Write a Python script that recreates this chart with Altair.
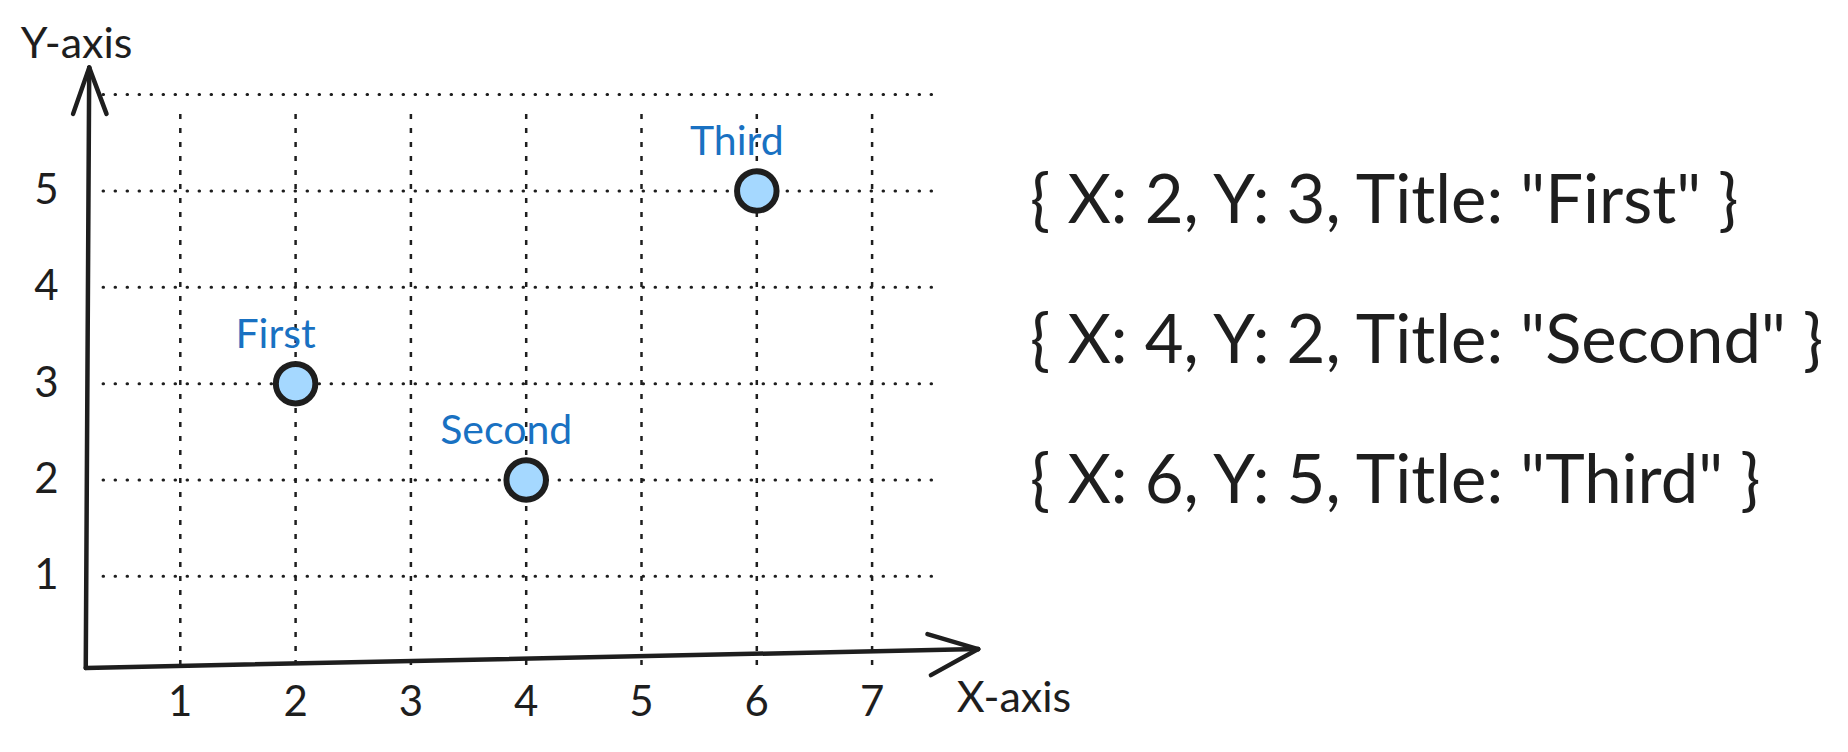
import altair as alt
import pandas as pd

# ---- data ----
titles = ["First", "Second", "Third"]
x_vals = [2, 4, 6]
y_vals = [3, 2, 5]
x_ticks = [1, 2, 3, 4, 5, 6, 7]
y_ticks = [1, 2, 3, 4, 5]
y_grid = [1, 2, 3, 4, 5, 6]

INK = "#1e1e1e"
BLUE = "#1971c2"
FILL = "#a5d8ff"
FONT = "Lato"

W, H = 1830, 734
# pixel mapping: x -> 57 + 115.3*x ; y -> 664.7 - 96.35*y (plot coords)
xs = alt.Scale(domain=[-57 / 115.3, (W - 57) / 115.3], nice=False, zero=False)
ys = alt.Scale(domain=[(664.7 - H) / 96.35, 664.7 / 96.35], nice=False, zero=False)

pts = pd.DataFrame({"x": x_vals, "y": y_vals, "title": titles})
pts["label"] = [f'{{ X: {a}, Y: {b}, Title: "{t}" }}' for a, b, t in zip(x_vals, y_vals, titles)]
pts["row_y"] = [4.878 - 1.455 * i for i in range(len(titles))]
pts["row_x"] = 8.37

hgrid = pd.DataFrame({"y": y_grid, "x": 0.33, "x2": 7.6})
vgrid = pd.DataFrame({"x": x_ticks, "y": 0.08, "y2": 5.85})

segs = pd.DataFrame({
    "x":  [0.18, 0.07, 0.36, 0.18, 7.48, 7.51],
    "y":  [0.05, 5.80, 5.80, 0.05, 0.40, -0.025],
    "x2": [0.21, 0.21, 0.21, 7.92, 7.92, 7.92],
    "y2": [6.28, 6.28, 6.28, 0.245, 0.245, 0.245],
})

xt = pd.DataFrame({"x": x_ticks, "y": -0.31})
yt = pd.DataFrame({"y": y_ticks, "x": -0.16})
ttl = pd.DataFrame({"x": [0.10, 8.23], "y": [6.515, -0.27], "t": ["Y-axis", "X-axis"]})

X = lambda f="x": alt.X(f"{f}:Q", scale=xs, axis=None)
Y = lambda f="y": alt.Y(f"{f}:Q", scale=ys, axis=None)

hg = alt.Chart(hgrid).mark_rule(color=INK, strokeWidth=3, strokeDash=[0.5, 11.5], strokeCap="round").encode(
    x=X(), x2="x2:Q", y=Y())
vg = alt.Chart(vgrid).mark_rule(color=INK, strokeWidth=2.5, strokeDash=[5, 9]).encode(
    x=X(), y=Y(), y2="y2:Q")
ax = alt.Chart(segs).mark_rule(color=INK, strokeWidth=4.5, strokeCap="round").encode(
    x=X(), y=Y(), x2="x2:Q", y2="y2:Q")

xtl = alt.Chart(xt).mark_text(font=FONT, fontSize=42, color=INK, baseline="middle").encode(
    x=X(), y=Y(), text="x:Q")
ytl = alt.Chart(yt).mark_text(font=FONT, fontSize=42, color=INK, baseline="middle").encode(
    x=X(), y=Y(), text="y:Q")
axt = alt.Chart(ttl).mark_text(font=FONT, fontSize=43, color=INK, baseline="middle").encode(
    x=X(), y=Y(), text="t:N")

dots = alt.Chart(pts).mark_point(shape="circle", filled=True, fill=FILL, stroke=INK,
                                 strokeWidth=6, size=1560, opacity=1).encode(x=X(), y=Y())
lbl = alt.Chart(pts).mark_text(font=FONT, fontSize=41, color=BLUE, dy=-48, dx=-20,
                               baseline="middle").encode(x=X(), y=Y(), text="title:N")
rows = alt.Chart(pts).mark_text(font=FONT, fontSize=67, color=INK, align="left",
                                baseline="middle").encode(x=X("row_x"), y=Y("row_y"), text="label:N")

chart = alt.layer(hg, vg, ax, xtl, ytl, axt, dots, lbl, rows).properties(
    width=W, height=H, padding=0, background="white"
).configure_view(strokeWidth=0, stroke="transparent")

chart.save("out.html", embed_options={"renderer": "svg", "actions": False})
